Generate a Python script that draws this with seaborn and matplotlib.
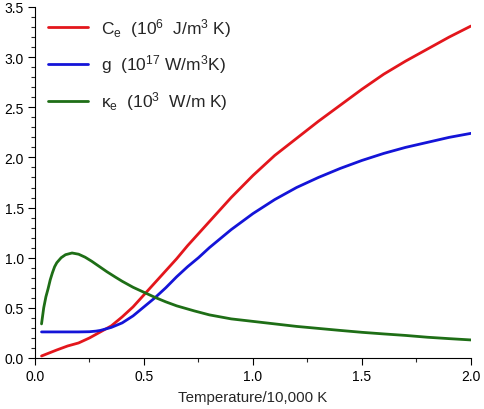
import matplotlib
matplotlib.use("Agg")
import matplotlib.pyplot as plt
from matplotlib.ticker import MultipleLocator
import seaborn as sns
import pandas as pd

# values
ce_x = [0.03, 0.1, 0.15, 0.2, 0.25, 0.3, 0.35, 0.4, 0.45, 0.5, 0.55, 0.6, 0.65, 0.7, 0.75,
        0.8, 0.85, 0.9, 0.95, 1.0, 1.1, 1.2, 1.3, 1.4, 1.5, 1.6, 1.7, 1.8, 1.9, 2.0]
ce_y = [0.02, 0.08, 0.12, 0.15, 0.20, 0.26, 0.32, 0.41, 0.51, 0.63, 0.75, 0.87, 0.99, 1.12, 1.24,
        1.36, 1.48, 1.60, 1.71, 1.82, 2.02, 2.19, 2.36, 2.52, 2.68, 2.83, 2.96, 3.08, 3.20, 3.31]

g_x = [0.03, 0.1, 0.2, 0.25, 0.28, 0.3, 0.35, 0.4, 0.45, 0.5, 0.55, 0.6, 0.65, 0.7, 0.75,
       0.8, 0.85, 0.9, 0.95, 1.0, 1.1, 1.2, 1.3, 1.4, 1.5, 1.6, 1.7, 1.8, 1.9, 2.0]
g_y = [0.26, 0.26, 0.26, 0.262, 0.268, 0.275, 0.305, 0.35, 0.42, 0.51, 0.60, 0.70, 0.81, 0.91, 1.00,
       1.10, 1.19, 1.28, 1.36, 1.44, 1.58, 1.70, 1.80, 1.89, 1.97, 2.04, 2.10, 2.15, 2.20, 2.24]

k_x = [0.03, 0.04, 0.05, 0.06, 0.07, 0.08, 0.09, 0.1, 0.12, 0.14, 0.17, 0.2, 0.23, 0.26, 0.3,
       0.33, 0.37, 0.4, 0.45, 0.5, 0.55, 0.6, 0.65, 0.73, 0.8, 0.9, 1.0, 1.1, 1.2, 1.3, 1.4,
       1.5, 1.6, 1.7, 1.8, 1.9, 2.0]
k_y = [0.34, 0.50, 0.61, 0.69, 0.78, 0.85, 0.91, 0.95, 1.00, 1.03, 1.047, 1.035, 1.005, 0.965, 0.905,
       0.86, 0.805, 0.765, 0.705, 0.655, 0.605, 0.56, 0.52, 0.47, 0.43, 0.39, 0.365, 0.34, 0.315, 0.295, 0.275,
       0.256, 0.24, 0.225, 0.207, 0.193, 0.18]

labels = [r"C$_\mathregular{e}$  (10$^\mathregular{6}$  J/m$^\mathregular{3}$ K)",
          r"g  (10$^\mathregular{17}$ W/m$^\mathregular{3}$K)",
          r"κ$_\mathregular{e}$  (10$^\mathregular{3}$  W/m K)"]
colors = ["#e3161c", "#1414d8", "#1e6e16"]

sns.set_style("ticks")
plt.rcParams["font.family"] = ["Liberation Sans", "DejaVu Sans"]
plt.rcParams["mathtext.fontset"] = "custom"
plt.rcParams["mathtext.rm"] = "Liberation Sans"
plt.rcParams["mathtext.it"] = "Liberation Sans:italic"

fig = plt.figure(figsize=(4.84, 4.10), dpi=100)
ax = fig.add_axes([0.0723, 0.1244, 0.9007, 0.8561])

series = [(ce_x, ce_y), (g_x, g_y), (k_x, k_y)]
for (xs, ys), lab, col in zip(series, labels, colors):
    df = pd.DataFrame({"T": xs, "v": ys})
    sns.lineplot(data=df, x="T", y="v", ax=ax, color=col, linewidth=2.0, label=lab)

ax.set_xlim(0, 2.0)
ax.set_ylim(0, 3.5)
ax.xaxis.set_major_locator(MultipleLocator(0.5))
ax.xaxis.set_minor_locator(MultipleLocator(0.25))
ax.yaxis.set_major_locator(MultipleLocator(0.5))
ax.yaxis.set_minor_locator(MultipleLocator(0.1))
ax.tick_params(which="major", length=5, width=0.8, labelsize=10, colors="black", pad=3)
ax.tick_params(which="minor", length=3, width=0.8)
ax.set_xlabel("Temperature/10,000 K", fontsize=10.8, labelpad=5)
ax.set_ylabel("")
sns.despine(ax=ax)
for s in ["left", "bottom"]:
    ax.spines[s].set_linewidth(0.8)
    ax.spines[s].set_color("black")

ax.legend(loc="upper left", bbox_to_anchor=(0.03, 0.975), frameon=False,
          fontsize=12.5, handlelength=2.3, handletextpad=0.75, labelspacing=0.8,
          borderpad=0, borderaxespad=0)

fig.savefig("out.png", dpi=100)
